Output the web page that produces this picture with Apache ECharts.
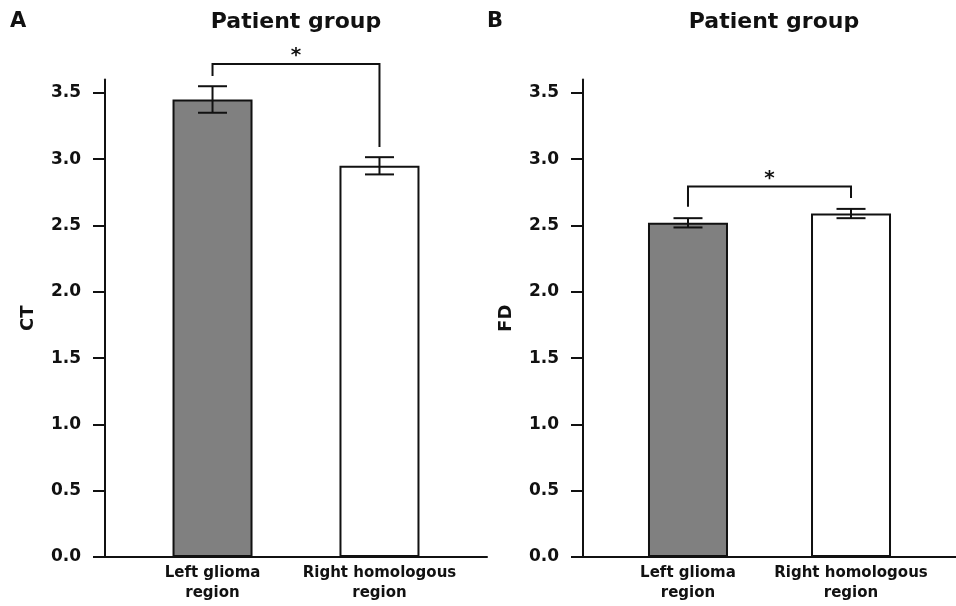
<!DOCTYPE html>
<html>
<head>
<meta charset="utf-8">
<script src="https://cdn.jsdelivr.net/npm/echarts@6/dist/echarts.min.js"></script>
<style>html,body{margin:0;padding:0;background:#fff}#c{width:956px;height:606px}</style>
</head>
<body>
<div id="c"></div>
<script>
// ---- data ----
const categories = ['Left glioma\nregion', 'Right homologous\nregion'];
const yTicks = [0, 0.5, 1.0, 1.5, 2.0, 2.5, 3.0, 3.5];
const ctMeans = [3.45, 2.95];
const ctErr = [0.10, 0.065];
const fdMeans = [2.52, 2.59];
const fdErr = [0.035, 0.035];
// significance brackets: [xLeft, xRight, yTop, yLeftEnd, yRightEnd]
const ctBracket = [0, 1, 3.718, 3.627, 3.092];
const fdBracket = [0, 1, 2.793, 2.642, 2.707];
const panelTitles = ['Patient group', 'Patient group'];
const panelLetters = ['A', 'B'];
const yNames = ['CT', 'FD'];
const barColors = ['#808080', '#ffffff'];

const FONT = 'DejaVu Sans';
const chart = echarts.init(document.getElementById('c'), null, {renderer: 'canvas'});

function xAxisCfg(gi) {
  return {
    type: 'value', gridIndex: gi, min: -0.644, max: 1.644,
    splitLine: {show: false},
    axisLine: {show: true, onZero: false, lineStyle: {color: '#111', width: 2}},
    axisTick: {show: false},
    axisLabel: {
      customValues: [0, 1], margin: 6,
      formatter: v => categories[Math.round(v)],
      fontFamily: FONT, fontWeight: 'bold', fontSize: 15, color: '#111', lineHeight: 20
    }
  };
}
function yAxisCfg(gi) {
  return {
    type: 'value', gridIndex: gi, min: 0, max: 3.6,
    name: yNames[gi], nameLocation: 'middle', nameGap: 68,
    nameTextStyle: {fontFamily: FONT, fontWeight: 'bold', fontSize: 18, color: '#111'},
    splitLine: {show: false},
    axisLine: {show: true, onZero: false, lineStyle: {color: '#111', width: 2}},
    axisTick: {show: true, inside: false, length: 12, customValues: yTicks, lineStyle: {color: '#111', width: 2}},
    axisLabel: {
      customValues: yTicks, margin: 24,
      formatter: v => v.toFixed(1),
      fontFamily: FONT, fontWeight: 'bold', fontSize: 17, color: '#111'
    }
  };
}
function barSeries(gi, means) {
  return {
    type: 'bar', xAxisIndex: gi, yAxisIndex: gi, barWidth: 80,
    data: means.map((m, i) => ({value: [i, m], itemStyle: {color: barColors[i]}})),
    itemStyle: {borderColor: '#111', borderWidth: 2},
    z: 2
  };
}
function errSeries(gi, means, errs) {
  return {
    type: 'custom', xAxisIndex: gi, yAxisIndex: gi, z: 5,
    data: means.map((m, i) => [i, m - errs[i], m + errs[i]]),
    renderItem: function (params, api) {
      const lo = api.coord([api.value(0), api.value(1)]);
      const hi = api.coord([api.value(0), api.value(2)]);
      const hw = 14.5;
      const st = {stroke: '#111', lineWidth: 2};
      return {type: 'group', children: [
        {type: 'line', shape: {x1: lo[0], y1: lo[1], x2: hi[0], y2: hi[1]}, style: st},
        {type: 'line', shape: {x1: hi[0] - hw, y1: hi[1], x2: hi[0] + hw, y2: hi[1]}, style: st},
        {type: 'line', shape: {x1: lo[0] - hw, y1: lo[1], x2: lo[0] + hw, y2: lo[1]}, style: st}
      ]};
    }
  };
}
function bracketSeries(gi, b) {
  return {
    type: 'custom', xAxisIndex: gi, yAxisIndex: gi, z: 6, clip: false,
    data: [b],
    renderItem: function (params, api) {
      const pTopL = api.coord([api.value(0), api.value(2)]);
      const pTopR = api.coord([api.value(1), api.value(2)]);
      const pL = api.coord([api.value(0), api.value(3)]);
      const pR = api.coord([api.value(1), api.value(4)]);
      return {type: 'group', children: [
        {type: 'polyline', shape: {points: [pL, pTopL, pTopR, pR]}, style: {stroke: '#111', lineWidth: 2, fill: null}},
        {type: 'text', style: {x: (pTopL[0] + pTopR[0]) / 2, y: pTopL[1] - 8, text: '*', align: 'center', verticalAlign: 'middle',
          font: 'bold 20px "' + FONT + '"', fill: '#111'}}
      ]};
    }
  };
}

chart.setOption({
  backgroundColor: '#fff',
  animation: false,
  grid: [
    {left: 105, top: 79.6, width: 382, bottom: 49, containLabel: false},
    {left: 583, top: 79.6, width: 382, bottom: 49, containLabel: false}
  ],
  xAxis: [xAxisCfg(0), xAxisCfg(1)],
  yAxis: [yAxisCfg(0), yAxisCfg(1)],
  series: [
    barSeries(0, ctMeans), errSeries(0, ctMeans, ctErr), bracketSeries(0, ctBracket),
    barSeries(1, fdMeans), errSeries(1, fdMeans, fdErr), bracketSeries(1, fdBracket)
  ],
  graphic: [
    {type: 'text', left: 10, top: 11, style: {text: panelLetters[0], font: 'bold 21px "' + FONT + '"', fill: '#111'}},
    {type: 'text', left: 487, top: 11, style: {text: panelLetters[1], font: 'bold 21px "' + FONT + '"', fill: '#111'}},
    {type: 'text', x: 296, y: 22, style: {text: panelTitles[0], align: 'center', verticalAlign: 'middle', font: 'bold 22px "' + FONT + '"', fill: '#111'}},
    {type: 'text', x: 774, y: 22, style: {text: panelTitles[1], align: 'center', verticalAlign: 'middle', font: 'bold 22px "' + FONT + '"', fill: '#111'}}
  ]
});
</script>
</body>
</html>
